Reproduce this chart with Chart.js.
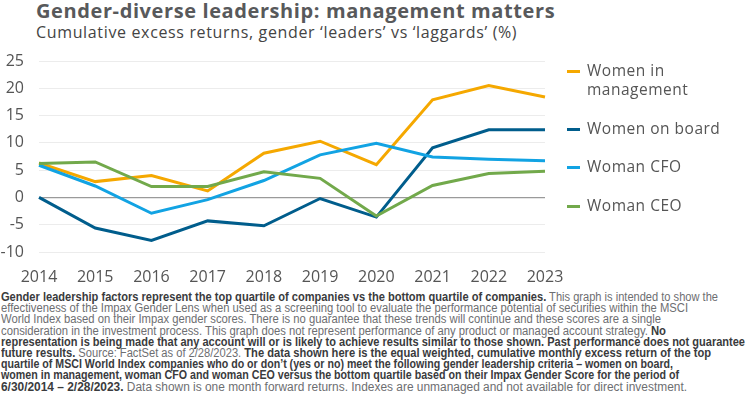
<!DOCTYPE html>
<html>
<head>
<meta charset="utf-8">
<script src="https://cdn.jsdelivr.net/npm/chart.js@4.4.1/dist/chart.umd.min.js"></script>
<style>
  html, body { margin: 0; padding: 0; background: #fff; }
  body { width: 746px; height: 395px; position: relative; overflow: hidden; font-family: "Open Sans", sans-serif; }
  #title { position: absolute; left: 36px; top: -3px; font-size: 20px; letter-spacing: 0.6px; font-weight: 700; color: #58595b; white-space: nowrap; }
  #subtitle { position: absolute; left: 36px; top: 21px; font-size: 16px; letter-spacing: 0.65px; color: #444; white-space: nowrap; }
  #chartBox { position: absolute; left: 0; top: 0; width: 746px; height: 290px; }
  #legend { position: absolute; left: 567px; top: 61px; font-size: 15.5px; letter-spacing: 0.5px; color: #555; }
  .item { position: relative; padding-left: 20px; line-height: 19px; margin-bottom: 19.5px; }
  .item .sw { position: absolute; left: 0; top: 9px; width: 13px; height: 3px; }
  #note { position: absolute; left: 1px; top: 292px; font-family: "Liberation Sans Narrow", "Liberation Sans", sans-serif; font-size: 12px; color: #6d6e71; }
  #note div { height: 11.2px; line-height: 11.2px; white-space: nowrap; transform-origin: 0 50%; }
  #note b { color: #3a3b3d; font-weight: 700; }
</style>
</head>
<body>
<div id="title">Gender-diverse leadership: management matters</div>
<div id="subtitle">Cumulative excess returns, gender ‘leaders’ vs ‘laggards’ (%)</div>
<div id="chartBox"><canvas id="chart"></canvas></div>
<div id="legend"></div>
<div id="note">
<div data-r="718"><b>Gender leadership factors represent the top quartile of companies vs the bottom quartile of companies.</b> This graph is intended to show the</div>
<div data-r="688">effectiveness of the Impax Gender Lens when used as a screening tool to evaluate the performance potential of securities within the MSCI</div>
<div data-r="661">World Index based on their Impax gender scores. There is no guarantee that these trends will continue and these scores are a single</div>
<div data-r="666">consideration in the investment process. This graph does not represent performance of any product or managed account strategy. <b>No</b></div>
<div data-r="745"><b>representation is being made that any account will or is likely to achieve results similar to those shown. Past performance does not guarantee</b></div>
<div data-r="711"><b>future results.</b> Source: FactSet as of 2/28/2023. <b>The data shown here is the equal weighted, cumulative monthly excess return of the top</b></div>
<div data-r="673"><b>quartile of MSCI World Index companies who do or don’t (yes or no) meet the following gender leadership criteria – women on board,</b></div>
<div data-r="679"><b>women in management, woman CFO and woman CEO versus the bottom quartile based on their Impax Gender Score for the period of</b></div>
<div data-r="687"><b>6/30/2014 – 2/28/2023.</b> Data shown is one month forward returns. Indexes are unmanaged and not available for direct investment.</div>
</div>
<script>
// data
const years = ['2014', '2015', '2016', '2017', '2018', '2019', '2020', '2021', '2022', '2023'];
const womenInManagement = [6.3, 2.9, 4.0, 1.2, 8.1, 10.3, 6.0, 17.9, 20.5, 18.4];
const womenOnBoard = [0, -5.6, -7.9, -4.3, -5.2, -0.2, -3.6, 9.1, 12.4, 12.4];
const womanCFO = [5.9, 2.1, -2.9, -0.4, 3.1, 7.8, 9.9, 7.4, 7.0, 6.7];
const womanCEO = [6.2, 6.5, 2.0, 2.0, 4.7, 3.5, -3.4, 2.2, 4.4, 4.8];
const seriesNames = [['Women in', 'management'], ['Women on board'], ['Woman CFO'], ['Woman CEO']];
const seriesColors = ['#f5a800', '#005d8c', '#12a3e3', '#72a94b'];

// footnote lines: stretch each one to the width it has in the original
document.querySelectorAll('#note div').forEach((line) => {
    const range = document.createRange();
    range.selectNodeContents(line);
    const w = range.getBoundingClientRect().width;
    const target = parseFloat(line.dataset.r) - 1;
    line.style.transform = 'scaleX(' + (target / w) + ')';
});

const datasets = [womenInManagement, womenOnBoard, womanCFO, womanCEO].map((d, i) => ({
    label: seriesNames[i].join(' '),
    data: d,
    borderColor: seriesColors[i],
    backgroundColor: seriesColors[i],
    borderWidth: 3,
    pointRadius: 0,
    tension: 0,
    order: 4 - i
}));

// legend in html (multi-line label)
const legend = document.getElementById('legend');
seriesNames.forEach((n, i) => {
    const el = document.createElement('div');
    el.className = 'item';
    el.innerHTML = '<span class="sw" style="background:' + seriesColors[i] + '"></span>' + n.join('<br>');
    legend.appendChild(el);
});

const ctx = document.getElementById('chart').getContext('2d');
new Chart(ctx, {
    type: 'line',
    data: { labels: years, datasets: datasets },
    options: {
        responsive: true,
        maintainAspectRatio: false,
        animation: false,
        layout: { padding: { top: 61, right: 201, left: 0, bottom: 0 } },
        plugins: { legend: { display: false }, tooltip: { enabled: false } },
        scales: {
            x: {
                offset: false,
                grid: { display: false },
                border: { display: false },
                ticks: { color: '#555', font: { family: 'Open Sans', size: 16 }, padding: 8, maxRotation: 0 },
                afterFit: (s) => { s.height = 38; }
            },
            y: {
                min: -10,
                max: 25,
                grid: {
                    drawTicks: false,
                    color: (c) => c.tick && c.tick.value === 0 ? '#9a9a9a' : '#ececec',
                    lineWidth: (c) => c.tick && c.tick.value === 0 ? 1.2 : 1
                },
                border: { display: false },
                ticks: { stepSize: 5, color: '#555', font: { family: 'Open Sans', size: 16 }, padding: 15 },
                afterFit: (s) => { s.width = 39; }
            }
        }
    }
});
</script>
</body>
</html>
